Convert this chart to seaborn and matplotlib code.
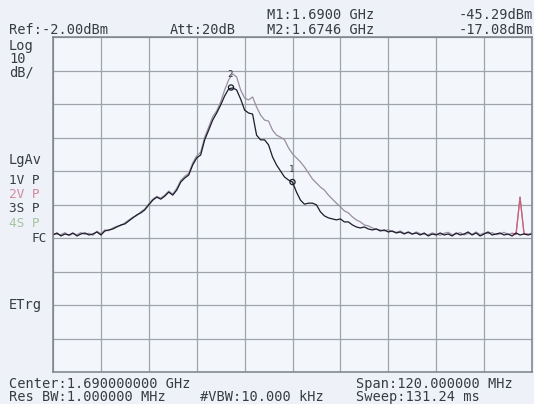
import numpy as np
import pandas as pd
import matplotlib
matplotlib.use('Agg')
import matplotlib.pyplot as plt
import seaborn as sns

# sweep: 1.63 GHz .. 1.75 GHz, one point per MHz
freq_mhz = np.linspace(1630, 1750, 121)

# trace 1 (black), dBm
trace1 = [
    -61.1, -60.5, -61.4, -60.8, -61.1, -60.5, -61.4, -60.8, -60.5, -61.1,
    -60.8, -60.2, -61.1, -59.9, -59.6, -59.3, -58.7, -58.1, -57.8, -56.9,
    -56.0, -55.1, -54.5, -53.6, -52.1, -50.7, -49.8, -50.4, -49.5, -48.3,
    -49.2, -47.7, -45.3, -44.1, -43.2, -40.2, -38.1, -37.2, -32.7, -29.8,
    -26.8, -24.7, -22.3, -19.6, -17.5, -17.2, -17.8, -20.5, -23.8, -24.7,
    -25.0, -31.3, -32.7, -32.7, -34.2, -37.8, -40.2, -42.0, -43.8, -44.7,
    -45.3, -48.3, -50.7, -51.9, -51.6, -51.6, -52.1, -54.2, -55.4, -56.0,
    -56.3, -56.6, -56.3, -57.2, -57.2, -58.1, -58.7, -59.0, -58.7, -59.3,
    -59.6, -59.3, -59.9, -59.6, -60.2, -59.9, -60.5, -60.2, -60.8, -60.2,
    -60.8, -60.5, -61.1, -60.5, -61.4, -60.8, -61.1, -60.5, -61.1, -60.8,
    -61.4, -60.5, -61.1, -60.8, -60.2, -61.1, -60.5, -61.4, -60.8, -60.2,
    -61.1, -60.8, -60.5, -61.1, -60.8, -61.4, -60.5, -61.1, -60.8, -61.1,
    -60.8,
]

# trace 2 (grey), dBm
trace2 = [
    -60.8, -60.9, -61.0, -60.4, -61.3, -60.7, -61.0, -60.4, -60.9, -60.6,
    -61.2, -60.0, -60.7, -59.6, -59.8, -59.0, -58.5, -58.3, -57.5, -56.6,
    -55.8, -55.3, -54.2, -53.3, -51.8, -50.4, -49.6, -50.1, -49.2, -48.0,
    -48.9, -47.2, -44.8, -43.6, -42.7, -39.6, -37.5, -36.4, -31.9, -28.9,
    -25.8, -24.1, -21.4, -17.8, -14.8, -13.0, -13.9, -17.8, -20.2, -20.8,
    -19.9, -22.9, -25.3, -26.8, -27.1, -29.8, -31.3, -31.9, -32.7, -35.1,
    -36.9, -38.1, -39.3, -40.8, -42.6, -44.4, -45.6, -46.8, -47.7, -49.2,
    -50.4, -51.6, -52.7, -53.9, -54.5, -55.7, -56.6, -57.2, -58.1, -58.4,
    -59.0, -59.4, -59.6, -59.9, -59.5, -60.1, -60.3, -59.9, -60.6, -60.4,
    -60.9, -60.2, -60.7, -60.9, -61.0, -60.5, -60.8, -61.2, -60.6, -60.3,
    -61.0, -60.8, -60.4, -61.1, -60.6, -60.9, -60.2, -61.0, -60.5, -60.7,
    -60.4, -61.0, -60.8, -60.3, -61.0, -60.6, -60.9, -49.8, -60.7, -60.9,
    -60.5,
]

# markers
marker_freq = [1690.0, 1674.6]
marker_dbm = [-45.29, -17.08]
marker_names = ['1', '2']

ref_level = -2.0
db_per_div = 10
span_start, span_stop = 1630, 1750

W, H = 534, 404
TXT = '#363c44'
FONT = ['DejaVu Sans Mono']

sns.set_theme(style='white')
plt.rcParams['font.family'] = FONT

fig = plt.figure(figsize=(W / 100, H / 100), dpi=100)
fig.patch.set_facecolor('#eef2f8')
ax = fig.add_axes([53 / W, 1 - 372 / H, 479 / W, 335 / H])
ax.set_facecolor('#f3f6fb')

df = pd.DataFrame({'f': freq_mhz, 't1': trace1, 't2': trace2})
sns.lineplot(data=df, x='f', y='t2', ax=ax, color='#9a8ea2', lw=0.9)
# the spur on trace 2 shows up pink
sns.lineplot(data=df.iloc[115:120], x='f', y='t2', ax=ax, color='#d0607a', lw=0.9)
sns.lineplot(data=df, x='f', y='t1', ax=ax, color='#1c1c2a', lw=0.9)

ax.scatter(marker_freq, marker_dbm, s=14, facecolors='none',
           edgecolors='#1c1c2a', linewidths=0.9, zorder=5)
for f, d, n in zip(marker_freq, marker_dbm, marker_names):
    ax.annotate(n, (f, d), xytext=(-1, 6), textcoords='offset points',
                ha='center', va='bottom', fontsize=6.5, color='#303038')

ax.set_xlim(span_start, span_stop)
ax.set_ylim(ref_level - 10 * db_per_div, ref_level)
ax.set_xticks(np.linspace(span_start, span_stop, 11))
ax.set_yticks(np.linspace(ref_level - 10 * db_per_div, ref_level, 11))
ax.grid(True, color='#9ea4aa', lw=0.9)
ax.tick_params(length=0, labelbottom=False, labelleft=False)
ax.set_xlabel('')
ax.set_ylabel('')
for s in ax.spines.values():
    s.set_color('#7c8288')
    s.set_linewidth(1.1)


def put(x, y, s, ha='left', color=TXT, size=9.8):
    fig.text(x / W, 1 - y / H, s, ha=ha, va='center', fontsize=size,
             color=color, family=FONT)


put(9, 30, 'Ref:-2.00dBm')
put(170, 30, 'Att:20dB')
put(267, 15, 'M1:1.6900 GHz')
put(267, 30, 'M2:1.6746 GHz')
put(533, 15, '-45.29dBm', ha='right')
put(533, 30, '-17.08dBm', ha='right')

put(9, 46, 'Log')
put(9, 59, '10')
put(9, 72, 'dB/')
put(9, 160, 'LgAv')
# status column is packed tight on the instrument, so a bit smaller here
put(9, 181, '1V P', size=9.2)
put(9, 195, '2V P', color='#d08a9c', size=9.2)
put(9, 209, '3S P', size=9.2)
put(9, 223, '4S P', color='#a6c4a2', size=9.2)
put(47, 238, 'FC', ha='right', size=9.2)
put(9, 305, 'ETrg')

put(9, 384, 'Center:1.690000000 GHz')
put(9, 397, 'Res BW:1.000000 MHz')
put(200, 397, '#VBW:10.000 kHz')
put(356, 384, 'Span:120.000000 MHz')
put(356, 397, 'Sweep:131.24 ms')

fig.savefig('out.png', dpi=100)
